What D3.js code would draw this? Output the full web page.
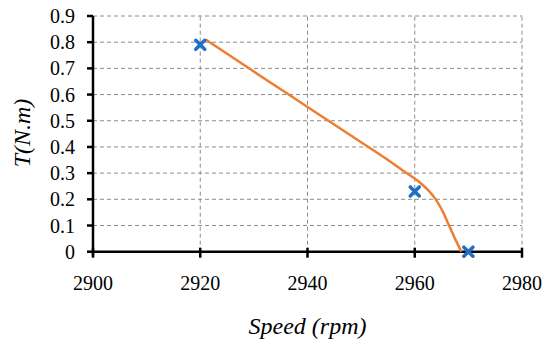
<!DOCTYPE html>
<html><head><meta charset="utf-8">
<script src="https://cdn.jsdelivr.net/npm/d3@7"></script>
</head><body>
<script>
const xTicks = [2900, 2920, 2940, 2960, 2980];
const yTicks = [0, 0.1, 0.2, 0.3, 0.4, 0.5, 0.6, 0.7, 0.8, 0.9];
const measuredSpeed = [2920, 2960, 2970];
const measuredTorque = [0.79, 0.23, 0];
const curveSpeed = [2921, 2935, 2950, 2955, 2958, 2960.5, 2962.5, 2964, 2965.3, 2966.4, 2967.5, 2968.7];
const curveTorque = [0.81, 0.62, 0.418, 0.35, 0.307, 0.272, 0.235, 0.197, 0.15, 0.10, 0.05, 0];
const xTitle = "Speed (rpm)";
const yTitle = "T(N.m)";

document.body.style.margin = "0";
const W = 550, H = 346;
const x = d3.scaleLinear().domain([2900, 2980]).range([93, 522]);
const y = d3.scaleLinear().domain([0, 0.9]).range([251.7, 16]);
const svg = d3.select("body").append("svg").attr("width", W).attr("height", H);

// grid
const g = svg.append("g");
g.selectAll("line.h").data(yTicks.filter(d => d > 0)).join("line")
  .attr("x1", x(2900)).attr("x2", x(2980)).attr("y1", d => y(d)).attr("y2", d => y(d))
  .attr("stroke", "#8c8c8c").attr("stroke-width", 1).attr("stroke-dasharray", "4,3");
g.selectAll("line.v").data(xTicks.filter(d => d > 2900)).join("line")
  .attr("x1", d => x(d)).attr("x2", d => x(d)).attr("y1", y(0)).attr("y2", y(0.9))
  .attr("stroke", "#8c8c8c").attr("stroke-width", 1).attr("stroke-dasharray", "4,3");

// axes
const ax = svg.append("g");
ax.append("line").attr("x1", x(2900)).attr("x2", x(2900)).attr("y1", y(0.9)).attr("y2", y(0) + 4)
  .attr("stroke", "#000").attr("stroke-width", 2.5);
ax.append("line").attr("x1", x(2900) - 1).attr("x2", x(2980) + 1).attr("y1", y(0)).attr("y2", y(0))
  .attr("stroke", "#000").attr("stroke-width", 2.5);
ax.selectAll("line.yt").data(yTicks).join("line")
  .attr("x1", x(2900) - 6).attr("x2", x(2900)).attr("y1", d => y(d)).attr("y2", d => y(d))
  .attr("stroke", "#000").attr("stroke-width", 2.5);
ax.selectAll("line.xt").data(xTicks).join("line")
  .attr("x1", d => x(d)).attr("x2", d => x(d)).attr("y1", y(0) - 4).attr("y2", y(0) + 6)
  .attr("stroke", "#000").attr("stroke-width", 2.5);

const txt = svg.append("g");
yTicks.forEach(d => {
  txt.append("text").attr("x", 75).attr("y", y(d) + 7).attr("text-anchor", "end")
    .style("font-family", "Liberation Serif").style("font-size", "20px")
    .text(d3.format("")(d));
});
xTicks.forEach(d => {
  txt.append("text").attr("x", x(d)).attr("y", 290).attr("text-anchor", "middle")
    .style("font-family", "Liberation Serif").style("font-size", "20px")
    .text(String(d));
});
txt.append("text").attr("x", 307.5).attr("y", 334).attr("text-anchor", "middle")
  .style("font-family", "Liberation Serif").style("font-style", "italic").style("font-size", "24px").text(xTitle);
txt.append("text").attr("transform", "translate(30,133) rotate(-90)").attr("text-anchor", "middle")
  .style("font-family", "Liberation Serif").style("font-style", "italic").style("font-size", "24px").text(yTitle);

// curve
const curveData = curveSpeed.map((s, i) => [s, curveTorque[i]]);
svg.append("path").datum(curveData)
  .attr("d", d3.line().x(d => x(d[0])).y(d => y(d[1])).curve(d3.curveCatmullRom.alpha(0.5)))
  .attr("fill", "none").attr("stroke", "#ED7D31").attr("stroke-width", 2.5);

// markers
const pts = measuredSpeed.map((s, i) => [s, measuredTorque[i]]);
const r = 4.5;
svg.selectAll("path.mk").data(pts).join("path")
  .attr("d", d => {
    const cx = x(d[0]), cy = y(d[1]);
    return `M${cx - r},${cy - r}L${cx + r},${cy + r}M${cx - r},${cy + r}L${cx + r},${cy - r}`;
  })
  .attr("stroke", "#1F6FC5").attr("stroke-width", 3.5).attr("stroke-linecap", "round");
</script>
</body></html>
